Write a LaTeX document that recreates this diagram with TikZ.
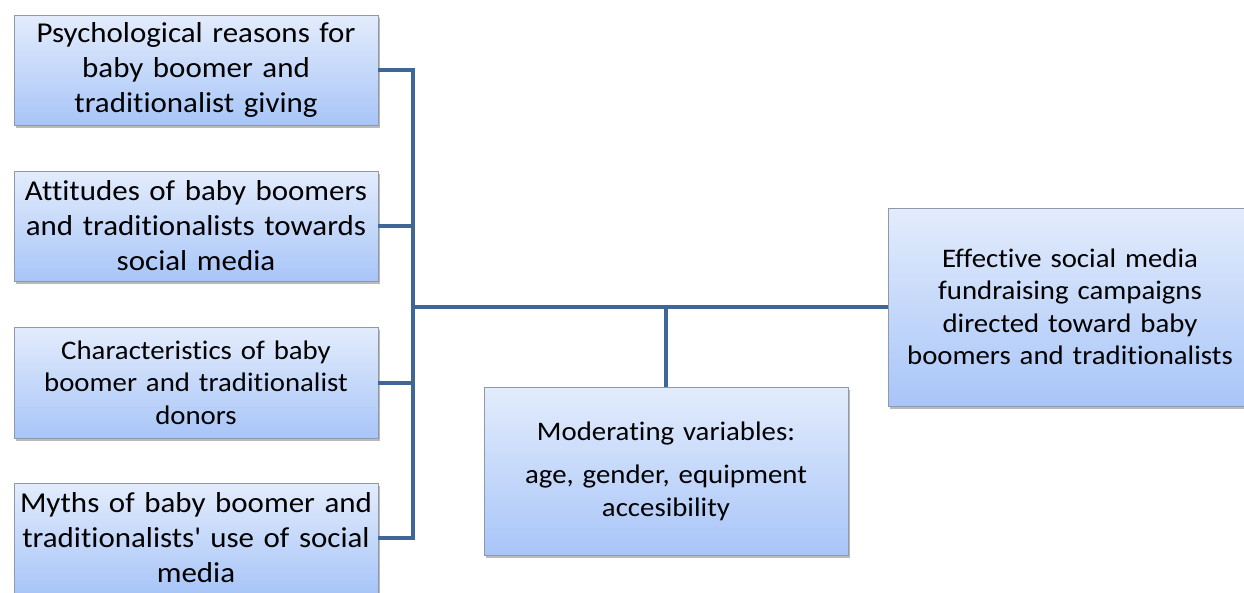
\documentclass[tikz,border=0pt]{standalone}
\usepackage{fontspec}
\setmainfont{Carlito}[Ligatures={NoCommon}, FakeStretch=1.075]
\usetikzlibrary{shadows}
\definecolor{conncol}{HTML}{3E6696}
\definecolor{boxtop}{HTML}{E3ECFC}
\definecolor{boxbot}{HTML}{A8C5F8}
\definecolor{boxedge}{HTML}{8E9AAA}
\tikzset{
  box/.style={draw=boxedge, line width=0.8pt, top color=boxtop, bottom color=boxbot,
    minimum width=364pt, text width=360pt, align=center, inner sep=0pt,
    drop shadow={shadow xshift=2pt, shadow yshift=-2.5pt, opacity=0.45, fill=black!60}},
  bigtext/.style={font=\fontsize{28.8}{35}\selectfont},
  smalltext/.style={font=\fontsize{26.8}{32.5}\selectfont},
  conn/.style={draw=conncol, line width=4pt, line join=miter}
}
\begin{document}
\begin{tikzpicture}[x=1pt,y=1pt]
\useasboundingbox (0,0) rectangle (1244,-592);
\node[box,bigtext,minimum height=110pt] (b1) at (196,-70) {Psychological reasons for\\baby boomer and\\traditionalist giving};
\node[box,bigtext,minimum height=110pt] (b2) at (196,-226) {Attitudes of baby boomers\\and traditionalists towards\\social media};
\node[box,smalltext,minimum height=111pt] (b3) at (196,-382.5) {Characteristics of baby\\boomer and traditionalist\\donors};
\node[box,bigtext,minimum height=110pt] (b4) at (196,-538) {Myths of baby boomer and\\traditionalists\textquotesingle{} use of social\\media};
\node[box,smalltext,minimum height=168pt] (mod) at (666,-471) {Moderating variables:\\[11pt]age, gender, equipment\\accesibility};
\node[box,smalltext,minimum height=198pt] (out) at (1070,-307) {Effective social media\\fundraising campaigns\\directed toward baby\\boomers and traditionalists};
\coordinate (jx) at (413,0);
\draw[conn] (b1.east) -- (b1.east -| jx) -- (b4.east -| jx) -- (b4.east);
\draw[conn] (b2.east) -- (b2.east -| jx);
\draw[conn] (b3.east) -- (b3.east -| jx);
\draw[conn] (out.west -| jx) -- (out.west);
\draw[conn] (mod.north) -- (mod.north |- out.west);
\end{tikzpicture}
\end{document}
